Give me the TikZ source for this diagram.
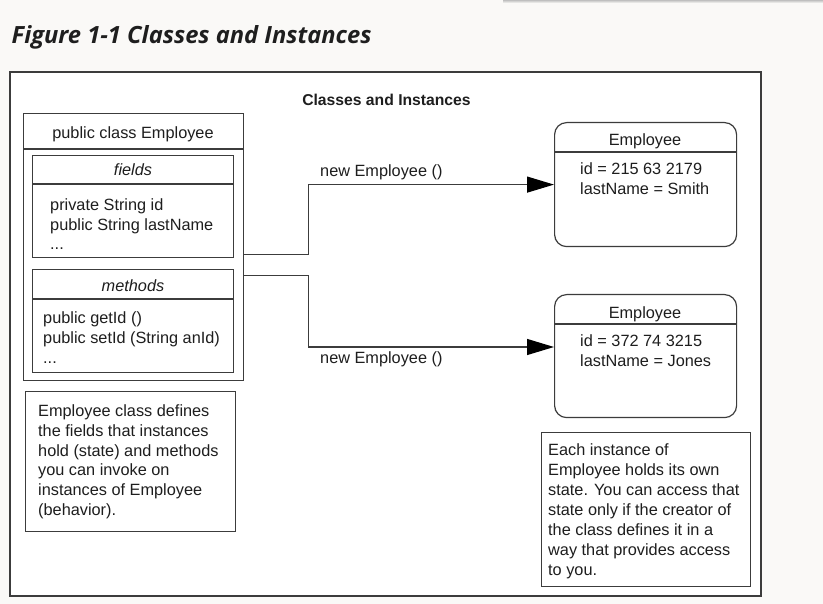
\documentclass[tikz,border=0pt]{standalone}
\usepackage{fontspec}
\setmainfont{Liberation Sans}
\newfontfamily\figfont{Open Sans}
\usepackage{tikz}
\usetikzlibrary{arrows.meta}
\usetikzlibrary{calc}

\definecolor{pagebg}{HTML}{FAF9F7}
\definecolor{ink}{HTML}{1E1E1E}
\definecolor{rulecol}{HTML}{3C3C3C}

\tikzset{
  box/.style={draw=rulecol, line width=1.2pt, fill=white, anchor=north west, inner sep=0pt},
  instbox/.style={box, rounded corners=12pt},
  sep/.style={draw=rulecol, line width=1.1pt},
  txt/.style={inner sep=0pt, text=ink, font=\fontsize{16.3}{19.6}\selectfont},
  conn/.style={draw=rulecol, line width=1.2pt, -{Triangle[length=27pt, width=16pt, color=black]}}
}

\begin{document}
\begin{tikzpicture}[x=1pt, y=-1pt]
      %% Page, caption and frame
      \fill[pagebg] (0,0) rectangle (823,604);
      \shade[top color=black!25, bottom color=pagebg] (503,0) rectangle (823,3);
      \node[anchor=base west, inner sep=0pt, text=ink,
        font=\figfont\bfseries\itshape\fontsize{23.7}{28}\selectfont] (caption) at (11.5,43.5)
        {Figure 1-1 Classes and Instances};
      \draw[draw=rulecol, line width=1.4pt, fill=white] (10,72) rectangle (761,596);
      \node[txt, anchor=base, font=\bfseries\fontsize{15.7}{19}\selectfont] (heading) at (386.5,105.5)
        {Classes and Instances};

      %% Class Employee (multi-line texts: base = last line)
      \node[box, minimum width=220pt, minimum height=267pt] (cls) at (23,113) {};
      \draw[sep] ($(cls.north west)+(0,36)$) -- ($(cls.north east)+(0,36)$);
      \node[txt, anchor=base] (clsname) at (133,138.5) {public class Employee};

      \node[box, minimum width=201pt, minimum height=102pt] (fields) at (32,155) {};
      \draw[sep] ($(fields.north west)+(0,29)$) -- ($(fields.north east)+(0,29)$);
      \node[txt, anchor=base, font=\itshape\fontsize{16.3}{19.6}\selectfont] (fieldshead) at (133,175.5) {fields};
      \node[txt, anchor=base west, align=left] (fieldlist) at (50,249.7)
        {private String id\\public String lastName\\...};

      \node[box, minimum width=201pt, minimum height=103pt] (methods) at (32,269) {};
      \draw[sep] ($(methods.north west)+(0,30)$) -- ($(methods.north east)+(0,30)$);
      \node[txt, anchor=base, font=\itshape\fontsize{16.3}{19.6}\selectfont] (methodshead) at (133,291.5) {methods};
      \node[txt, anchor=base west, align=left] (methodlist) at (43,363.2)
        {public getId ()\\public setId (String anId)\\...};

      %% Instances
      \node[instbox, minimum width=182pt, minimum height=124pt] (emp1) at (554,122) {};
      \draw[sep] ($(emp1.north west)+(0,30)$) -- ($(emp1.north east)+(0,30)$);
      \node[txt, anchor=base] (emp1name) at (645,146) {Employee};
      \node[txt, anchor=base west, align=left] (emp1vals) at (580,194.6)
        {id = 215 63 2179\\lastName = Smith};

      \node[instbox, minimum width=182pt, minimum height=123pt] (emp2) at (554,294) {};
      \draw[sep] ($(emp2.north west)+(0,30)$) -- ($(emp2.north east)+(0,30)$);
      \node[txt, anchor=base] (emp2name) at (645,318.3) {Employee};
      \node[txt, anchor=base west, align=left] (emp2vals) at (580,366.3)
        {id = 372 74 3215\\lastName = Jones};

      %% new Employee () connectors
      \coordinate (out1) at ($(cls.east)+(0,7.5)$);
      \coordinate (out2) at ($(cls.east)+(0,28.5)$);
      \draw[conn] (out1) -- ++(64,0) |- (emp1.west);
      \draw[conn] (out2) -- ++(64,0) |- ($(emp2.north west)+(0,53)$);
      \node[txt, anchor=base west] (new1) at (320,177) {new Employee ()};
      \node[txt, anchor=base west] (new2) at (320,363) {new Employee ()};

      %% Notes
      \node[box, minimum width=210pt, minimum height=140pt] (noteL) at (25,391) {};
      \node[txt, anchor=base west, align=left, font=\fontsize{16.3}{19.7}\selectfont] (noteLtext) at (38,515.2)
        {Employee class defines\\the fields that instances\\hold (state) and methods\\you can invoke on\\instances of Employee\\(behavior).};
      \node[box, minimum width=209pt, minimum height=154pt] (noteR) at (541,432) {};
      \node[txt, anchor=base west, align=left, font=\fontsize{16.3}{20}\selectfont] (noteRtext) at (548,575)
        {Each instance of\\Employee holds its own\\state. You can access that\\state only if the creator of\\the class defines it in a\\way that provides access\\to you.};

    \end{tikzpicture}
\end{document}
